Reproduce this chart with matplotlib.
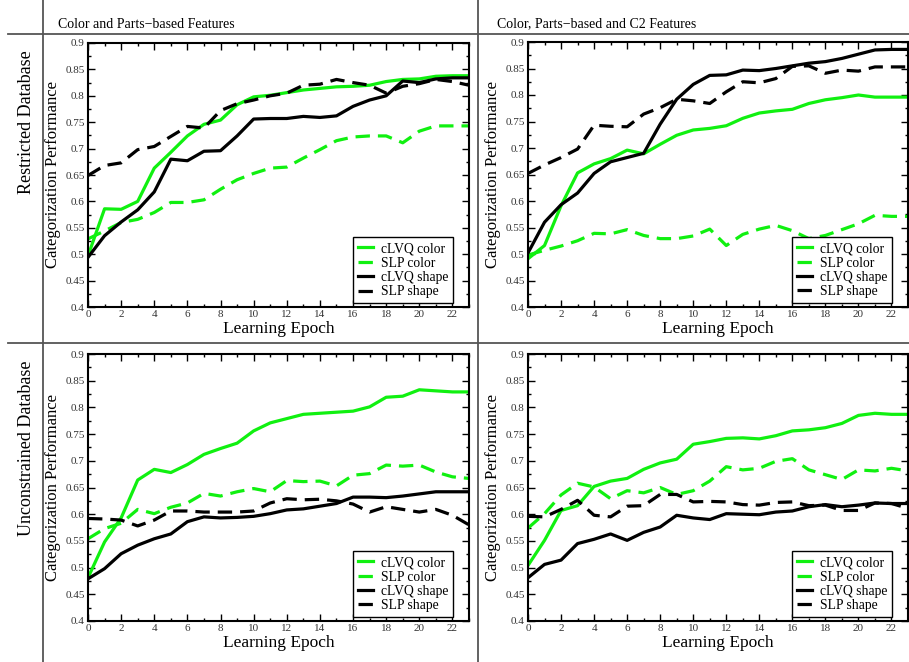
import matplotlib
matplotlib.use("Agg")
from matplotlib import pyplot as plt
from matplotlib.lines import Line2D
from matplotlib.ticker import MultipleLocator
import numpy as np

plt.rcParams['font.family'] = 'serif'
plt.rcParams['font.serif'] = ['Liberation Serif', 'DejaVu Serif']

epochs = list(range(24))

# Restricted database, color + parts-based features
rc_clvq_color = [0.497, 0.586, 0.585, 0.600, 0.663, 0.693, 0.724, 0.746, 0.754, 0.783, 0.798, 0.801,
                 0.806, 0.811, 0.814, 0.817, 0.818, 0.820, 0.827, 0.831, 0.832, 0.837, 0.838, 0.838]
rc_slp_color = [0.529, 0.544, 0.560, 0.566, 0.579, 0.598, 0.598, 0.603, 0.623, 0.641, 0.653, 0.663,
                0.665, 0.682, 0.698, 0.715, 0.722, 0.724, 0.724, 0.711, 0.733, 0.743, 0.743, 0.743]
rc_clvq_shape = [0.494, 0.535, 0.561, 0.584, 0.618, 0.680, 0.677, 0.695, 0.696, 0.724, 0.756, 0.757,
                 0.757, 0.761, 0.759, 0.762, 0.780, 0.792, 0.800, 0.828, 0.825, 0.832, 0.834, 0.834]
rc_slp_shape = [0.649, 0.668, 0.673, 0.698, 0.704, 0.723, 0.742, 0.739, 0.772, 0.785, 0.792, 0.800,
                0.805, 0.820, 0.822, 0.831, 0.825, 0.820, 0.805, 0.818, 0.823, 0.831, 0.827, 0.820]

# Restricted database, color + parts-based + C2 features
rc2_clvq_color = [0.491, 0.516, 0.591, 0.653, 0.670, 0.680, 0.696, 0.689, 0.707, 0.724, 0.734, 0.737,
                  0.742, 0.756, 0.766, 0.770, 0.773, 0.784, 0.791, 0.795, 0.800, 0.796, 0.796, 0.796]
rc2_slp_color = [0.498, 0.507, 0.515, 0.525, 0.539, 0.538, 0.546, 0.535, 0.529, 0.529, 0.534, 0.547,
                 0.516, 0.537, 0.547, 0.554, 0.544, 0.529, 0.535, 0.546, 0.557, 0.573, 0.571, 0.571]
rc2_clvq_shape = [0.502, 0.560, 0.593, 0.615, 0.652, 0.674, 0.682, 0.690, 0.745, 0.792, 0.820, 0.837,
                  0.838, 0.847, 0.846, 0.850, 0.855, 0.860, 0.863, 0.869, 0.877, 0.885, 0.886, 0.886]
rc2_slp_shape = [0.652, 0.668, 0.682, 0.698, 0.743, 0.741, 0.740, 0.764, 0.776, 0.792, 0.789, 0.784,
                 0.806, 0.825, 0.823, 0.831, 0.854, 0.855, 0.841, 0.847, 0.845, 0.853, 0.853, 0.853]

# Unconstrained database, color + parts-based features
uc_clvq_color = [0.481, 0.548, 0.593, 0.664, 0.684, 0.678, 0.693, 0.712, 0.723, 0.733, 0.756, 0.771,
                 0.779, 0.787, 0.789, 0.791, 0.793, 0.801, 0.819, 0.821, 0.833, 0.831, 0.829, 0.829]
uc_slp_color = [0.554, 0.573, 0.583, 0.609, 0.601, 0.613, 0.621, 0.639, 0.634, 0.642, 0.648, 0.642,
                0.663, 0.661, 0.662, 0.653, 0.673, 0.676, 0.692, 0.690, 0.692, 0.679, 0.670, 0.667]
uc_clvq_shape = [0.479, 0.498, 0.526, 0.542, 0.554, 0.563, 0.586, 0.595, 0.593, 0.594, 0.596, 0.601,
                 0.608, 0.610, 0.615, 0.620, 0.632, 0.632, 0.631, 0.634, 0.638, 0.642, 0.642, 0.642]
uc_slp_shape = [0.592, 0.591, 0.589, 0.578, 0.589, 0.606, 0.606, 0.604, 0.604, 0.604, 0.606, 0.621,
                0.629, 0.627, 0.628, 0.625, 0.619, 0.604, 0.614, 0.609, 0.604, 0.609, 0.598, 0.580]

# Unconstrained database, color + parts-based + C2 features
uc2_clvq_color = [0.504, 0.551, 0.607, 0.616, 0.652, 0.662, 0.667, 0.684, 0.696, 0.703, 0.731, 0.736,
                  0.742, 0.743, 0.741, 0.747, 0.756, 0.758, 0.762, 0.770, 0.785, 0.789, 0.787, 0.787]
uc2_slp_color = [0.574, 0.601, 0.636, 0.658, 0.651, 0.629, 0.644, 0.640, 0.650, 0.637, 0.644, 0.662,
                 0.689, 0.683, 0.686, 0.699, 0.704, 0.683, 0.674, 0.665, 0.683, 0.681, 0.686, 0.681]
uc2_clvq_shape = [0.481, 0.506, 0.514, 0.545, 0.553, 0.563, 0.551, 0.566, 0.576, 0.598, 0.593, 0.590,
                  0.601, 0.600, 0.599, 0.604, 0.606, 0.614, 0.618, 0.614, 0.617, 0.621, 0.620, 0.620]
uc2_slp_shape = [0.596, 0.595, 0.609, 0.626, 0.598, 0.595, 0.615, 0.616, 0.637, 0.637, 0.623, 0.624,
                 0.623, 0.618, 0.617, 0.622, 0.623, 0.616, 0.617, 0.607, 0.607, 0.621, 0.620, 0.611]

col_titles = ["Color and Parts\u2212based Features", "Color, Parts\u2212based and C2 Features"]
row_titles = ["Restricted Database", "Unconstrained Database"]
series_names = ["cLVQ color", "SLP color", "cLVQ shape", "SLP shape"]
ytick_labels = ["0.4", "0.45", "0.5", "0.55", "0.6", "0.65", "0.7", "0.75", "0.8", "0.85", "0.9"]

panels = [[(rc_clvq_color, rc_slp_color, rc_clvq_shape, rc_slp_shape),
           (rc2_clvq_color, rc2_slp_color, rc2_clvq_shape, rc2_slp_shape)],
          [(uc_clvq_color, uc_slp_color, uc_clvq_shape, uc_slp_shape),
           (uc2_clvq_color, uc2_slp_color, uc2_clvq_shape, uc2_slp_shape)]]

W, H = 909, 662
fig = plt.figure(figsize=(W / 100, H / 100), dpi=100)

# axes boxes in pixels: left, right, top, bottom
boxes = [[(88, 469, 43, 307), (528, 908, 42, 307)],
         [(88, 469, 354, 621), (528, 908, 354, 621)]]

colores = ["#10f010", "#10f010", "black", "black"]
dashed = [False, True, False, True]

for r in range(2):
	for c in range(2):
		l, rr, t, b = boxes[r][c]
		ax = fig.add_axes([l / W, 1 - b / H, (rr - l) / W, (b - t) / H])
		for k in range(4):
			ln, = ax.plot(epochs, panels[r][c][k], color=colores[k], lw=2.3,
						  label=series_names[k])
			if dashed[k]:
				ln.set_dashes((4.5, 2.5))
		ax.set_xlim(0, 23)
		ax.set_ylim(0.4, 0.9)
		ax.xaxis.set_major_locator(MultipleLocator(2))
		ax.xaxis.set_minor_locator(MultipleLocator(1))
		ax.yaxis.set_minor_locator(MultipleLocator(0.025))
		ax.set_yticks(np.arange(0.4, 0.91, 0.05))
		ax.set_yticklabels(ytick_labels)
		ax.tick_params(which='both', direction='in', top=True, right=True, labelsize=8,
					   width=1, pad=2.5, labelcolor='#333333')
		ax.tick_params(which='major', length=5)
		ax.tick_params(which='minor', length=2.5)
		for s in ax.spines.values():
			s.set_linewidth(1.5)
		ax.set_xlabel("Learning Epoch", fontsize=12.5, labelpad=1)
		ax.set_ylabel("Categorization Performance", fontsize=12, labelpad=3)
		leg = ax.legend(loc='lower right', bbox_to_anchor=(0.958, 0.015), borderaxespad=0,
						fontsize=9.8, handlelength=1.1, handletextpad=0.6, labelspacing=0.1,
						borderpad=0.35, fancybox=False, framealpha=1, edgecolor='black')
		leg.get_frame().set_linewidth(1)

# table lines
gris = "#555555"
fig.add_artist(Line2D([8 / W, 1], [1 - 34 / H, 1 - 34 / H], color=gris, lw=1.3))
fig.add_artist(Line2D([8 / W, 1], [1 - 343 / H, 1 - 343 / H], color=gris, lw=1.3))
fig.add_artist(Line2D([43 / W, 43 / W], [0, 1], color=gris, lw=1.3))
fig.add_artist(Line2D([478 / W, 478 / W], [0, 1], color=gris, lw=1.3))

fig.text(58 / W, 1 - 24 / H, col_titles[0], fontsize=10, va='center', ha='left')
fig.text(497 / W, 1 - 24 / H, col_titles[1], fontsize=10, va='center', ha='left')
fig.text(27 / W, 1 - 122 / H, row_titles[0], fontsize=13, rotation=90, va='center', ha='center')
fig.text(27 / W, 1 - 448 / H, row_titles[1], fontsize=13, rotation=90, va='center', ha='center')

fig.savefig("out.png", dpi=100)
